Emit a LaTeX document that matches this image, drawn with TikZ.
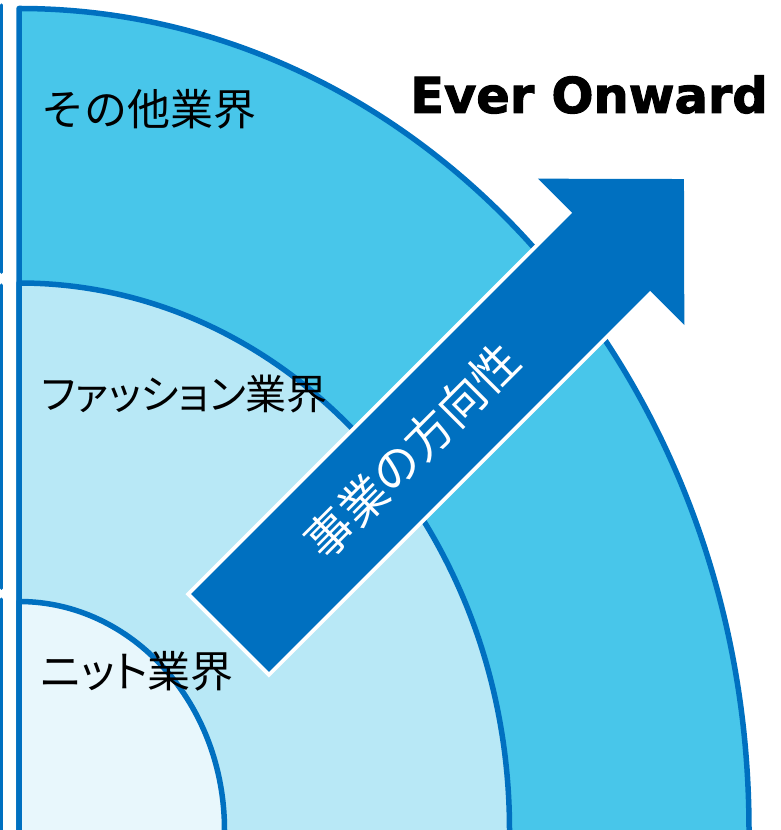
\documentclass[tikz,border=0pt]{standalone}
\usepackage{fontspec}
\newfontfamily\jp[RawFeature={+palt}]{Noto Sans CJK JP}
\newfontfamily\jpf{Noto Sans CJK JP}
\newfontfamily\evfont[BoldFeatures={FakeBold=2}]{DejaVu Sans}
\definecolor{bordblue}{HTML}{0070C0}
\definecolor{outerfill}{HTML}{48C6EA}
\definecolor{midfill}{HTML}{B8E8F6}
\definecolor{innerfill}{HTML}{E8F7FC}
\begin{document}
\begin{tikzpicture}[x=1pt,y=1pt,
  band/.style={draw=bordblue, line width=5.5pt, line join=round},
  sidebar/.style={draw=bordblue, line width=3pt, line cap=round},
  lbl/.style={anchor=base west, inner sep=0pt, font=\jp\fontsize{42}{42}\selectfont},
  arrowtext/.style={inner sep=0pt, text=white, font=\jp\fontsize{47}{47}\selectfont}]
\useasboundingbox (0,0) rectangle (781,830);
% side bars
\draw[sidebar] (1.5,825) -- (1.5,557.5);
\draw[sidebar] (1.5,545) -- (1.5,241.5);
\draw[sidebar] (1.5,231) -- (1.5,-5);
% bands
\draw[band, fill=outerfill] (19,-3) -- (19,821.5) arc[start angle=90, end angle=0, x radius=730, y radius=821.5] -- (749,-3) -- cycle;
\draw[band, fill=midfill] (19,-3) -- (19,547) arc[start angle=90, end angle=0, x radius=490.5, y radius=547] -- (509.5,-3) -- cycle;
\draw[band, fill=innerfill] (19,-3) -- (19,228.5) arc[start angle=90, end angle=0, x radius=205.5, y radius=228.5] -- (224.5,-3) -- cycle;
% labels
\node[lbl, font=\jpf\fontsize{43}{43}\selectfont] (other) at (41,704) {その他業界};
\node[lbl, font=\jp\fontsize{41}{41}\selectfont] (fashion) at (41,420) {ファッション業界};
\node[lbl, font=\jp\fontsize{43}{43}\selectfont] (knit) at (41,142) {ニット業界};
\node[anchor=base west, inner sep=0pt, font=\evfont\bfseries\fontsize{49.5}{49.5}\selectfont] (ever) at (410,717) {Ever Onward};
% arrow
\begin{scope}[shift={(230,197)}, rotate=45]
\path[fill=bordblue, preaction={draw=white, line width=8pt, line join=miter}]
  (0,-55) -- (539,-55) -- (539,-103.5) -- (642,0) -- (539,103.5) -- (539,55) -- (0,55) -- cycle;
\node[arrowtext, rotate=45] (dir) at (258,0) {事業の方向性};
\end{scope}
\end{tikzpicture}
\end{document}
